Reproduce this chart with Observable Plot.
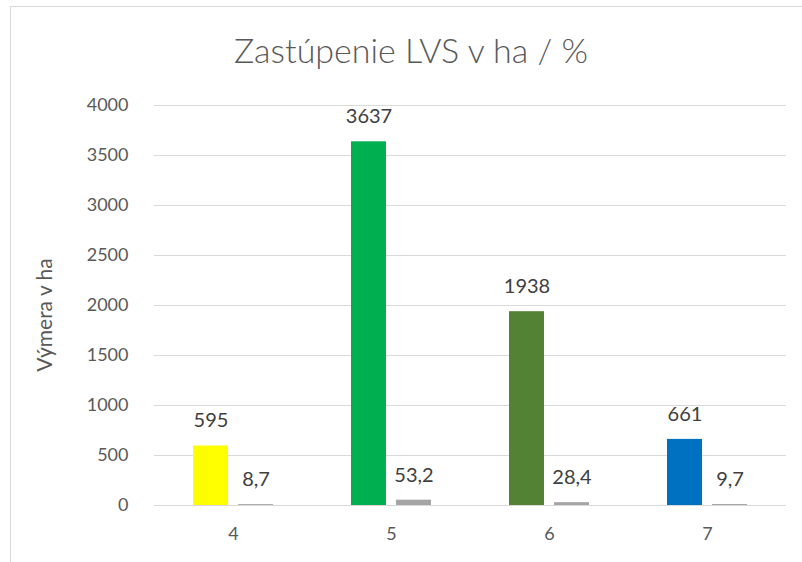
<!DOCTYPE html>
<html><head><meta charset="utf-8">
<script src="https://cdn.jsdelivr.net/npm/d3@7"></script>
<script src="https://cdn.jsdelivr.net/npm/@observablehq/plot@0.6"></script>
<style>
body{margin:0;background:#fff;}
#wrap{position:relative;width:802px;height:562px;overflow:hidden;font-family:Lato,sans-serif;background:#fff;}
#frame{position:absolute;left:10px;top:6px;width:830px;height:600px;border:1px solid #d9d9d9;}
#title{position:absolute;left:10px;width:802px;top:29px;text-align:center;font-size:34px;font-weight:300;color:#595959;line-height:42px;}
#ylabel{position:absolute;left:43px;top:315px;transform:translate(-50%,-50%) rotate(-90deg);font-size:21px;font-weight:400;color:#595959;white-space:nowrap;}
#chart{position:absolute;left:0;top:80px;}
</style></head><body>
<div id="wrap">
  <div id="frame"></div>
  <div id="title">Zastúpenie LVS v ha / %</div>
  <div id="ylabel">Výmera v ha</div>
  <div id="chart"></div>
</div>
<script>
const categories = ["4", "5", "6", "7"];
const areaHa = [595, 3637, 1938, 661];
const sharePct = [8.7, 53.2, 28.4, 9.7];
const seriesNames = ["ha", "%"];
const yTicks = [0, 500, 1000, 1500, 2000, 2500, 3000, 3500, 4000];

const barColors = ["#FFFF00", "#00B050", "#548235", "#0070C0"];
const pctColor = "#A5A5A5";

const rows = [];
categories.forEach((c, i) => {
  rows.push({cat: c, series: seriesNames[0], value: areaHa[i], color: barColors[i]});
  rows.push({cat: c, series: seriesNames[1], value: sharePct[i], color: pctColor});
});
const fmt = v => String(v).replace(".", ",");

const chart = Plot.plot({
  width: 802, height: 470,
  marginLeft: 154, marginRight: 16, marginTop: 25, marginBottom: 45,
  style: {fontFamily: "Lato, sans-serif", fontSize: "18px", color: "#595959", background: "transparent"},
  fx: {domain: categories, padding: 0, axis: "bottom", label: null, tickSize: 0, tickPadding: 22},
  x: {domain: seriesNames, axis: null, paddingInner: 0.217, paddingOuter: 0.826},
  y: {domain: [0, 4000], ticks: yTicks, tickSize: 0, tickPadding: 26, label: null, tickFormat: d => String(d)},
  color: {type: "identity"},
  marks: [
    Plot.gridY(yTicks, {stroke: "#d9d9d9", strokeOpacity: 1, strokeWidth: 1}),
    Plot.barY(rows, {fx: "cat", x: "series", y: "value", fill: "color"}),
    Plot.text(rows, {fx: "cat", x: "series", y: "value", text: d => fmt(d.value), dy: -25, fill: "#404040", fontSize: 20})
  ]
});
document.getElementById("chart").appendChild(chart);
</script>
</body></html>
